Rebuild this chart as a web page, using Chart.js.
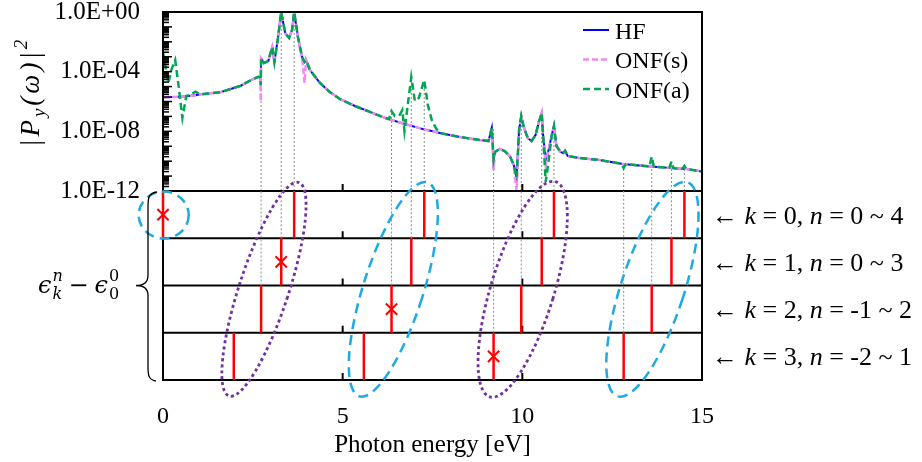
<!DOCTYPE html>
<html>
<head>
<meta charset="utf-8">
<script src="https://cdn.jsdelivr.net/npm/chart.js@4.4.1/dist/chart.umd.min.js"></script>
<style>
  html, body { margin: 0; padding: 0; background: #fff; }
  #wrap { position: relative; width: 922px; height: 462px; }
  #wrap canvas { position: absolute; left: 0; top: 0; }
</style>
</head>
<body>
<div id="wrap">
  <canvas id="spectrum" width="922" height="462"></canvas>
  <canvas id="levels" width="922" height="462"></canvas>
</div>
<script>
"use strict";

// photon energy grid [eV] shared by the three spectra
var energy = [0.00, 0.06, 0.15, 0.23, 0.34, 0.43, 0.54, 0.65, 0.76, 0.90,
    1.04, 1.59, 2.15, 2.45, 2.65, 2.71, 2.72, 2.73, 2.81, 2.93,
    3.04, 3.10, 3.20, 3.29, 3.40, 3.51, 3.59, 3.65, 3.76, 3.87,
    3.94, 3.98, 4.09, 4.37, 4.64, 4.92, 5.34, 5.76, 6.18, 6.29,
    6.36, 6.45, 6.59, 6.66, 6.72, 6.79, 6.91, 7.01, 7.12, 7.27,
    7.37, 7.48, 7.59, 7.70, 8.26, 8.81, 9.06, 9.15, 9.20, 9.24,
    9.37, 9.51, 9.65, 9.76, 9.84, 9.91, 9.97, 10.04, 10.15, 10.26,
    10.37, 10.46, 10.54, 10.58, 10.65, 10.73, 10.82, 10.88, 10.95, 11.06,
    11.14, 11.19, 11.26, 11.59, 12.15, 12.76, 12.82, 12.88, 13.54, 13.60,
    13.66, 14.09, 14.15, 14.21, 14.45, 14.51, 14.57, 15.00];

// |P_y(w)|^2
var hfValues = [1.9e-6, 1.9e-6, 1.93e-6, 2.0e-6, 2.04e-6, 2.09e-6, 2.19e-6, 2.29e-6, 2.45e-6, 2.63e-6,
    3.02e-6, 4.17e-6, 1.1e-5, 2.75e-5, 4.57e-5, 3.98e-5, 1.26e-5, 7.59e-4, 3.8e-4, 5.25e-4,
    4.47e-3, 4.47e-4, 1.82e-2, 1, 3.89e-2, 1.82e-2, 6.17e-2, 1, 1.82e-2, 9.55e-4,
    4.47e-4, 6.03e-4, 1.29e-4, 1.74e-5, 4.37e-6, 1.48e-6, 5.01e-7, 2.0e-7, 7.94e-8, 6.61e-8,
    5.75e-8, 5.01e-8, 3.89e-8, 3.47e-8, 3.16e-8, 2.82e-8, 2.34e-8, 2.0e-8, 1.7e-8, 1.32e-8,
    1.17e-8, 1.05e-8, 9.12e-9, 7.76e-9, 4.17e-9, 2.63e-9, 2.24e-9, 1.7e-8, 1.26e-10, 4.17e-10,
    6.61e-10, 4.79e-10, 2.24e-10, 5.62e-11, 7.94e-12, 1.23e-8, 1.07e-7, 1.95e-8, 3.55e-9, 2.24e-9,
    5.75e-9, 4.27e-8, 1.7e-7, 4.9e-9, 1.2e-10, 5.62e-10, 5.75e-9, 2.29e-8, 1.05e-9, 4.17e-10,
    3.55e-10, 5.01e-10, 2.24e-10, 1.62e-10, 1.2e-10, 6.61e-11, 6.46e-11, 6.31e-11, 4.47e-11, 4.37e-11,
    4.27e-11, 3.55e-11, 3.47e-11, 3.39e-11, 3.09e-11, 3.02e-11, 2.95e-11, 2.04e-11];

var onfSValues = [1.9e-6, 1.9e-6, 1.93e-6, 2.0e-6, 2.04e-6, 2.09e-6, 2.19e-6, 2.29e-6, 2.45e-6, 2.63e-6,
    3.02e-6, 4.17e-6, 1.1e-5, 2.75e-5, 4.57e-5, 3.98e-5, 1.0e-6, 7.59e-4, 3.8e-4, 5.25e-4,
    4.47e-3, 4.47e-4, 1.82e-2, 1, 3.89e-2, 1.82e-2, 6.17e-2, 1, 1.82e-2, 9.55e-4,
    1.74e-5, 6.03e-4, 1.29e-4, 1.74e-5, 4.37e-6, 1.48e-6, 5.01e-7, 2.0e-7, 7.94e-8, 6.61e-8,
    5.75e-8, 5.01e-8, 3.89e-8, 3.47e-8, 3.16e-8, 2.82e-8, 2.34e-8, 2.0e-8, 1.7e-8, 1.32e-8,
    1.17e-8, 1.05e-8, 9.12e-9, 7.76e-9, 4.17e-9, 2.63e-9, 2.24e-9, 1.7e-8, 2.51e-11, 4.17e-10,
    6.61e-10, 4.79e-10, 2.24e-10, 5.62e-11, 1.0e-12, 1.23e-8, 1.07e-7, 1.95e-8, 3.55e-9, 2.24e-9,
    5.75e-9, 4.27e-8, 1.7e-7, 4.9e-9, 5.62e-11, 5.62e-10, 5.75e-9, 2.29e-8, 1.05e-9, 4.17e-10,
    3.55e-10, 5.01e-10, 2.24e-10, 1.62e-10, 1.2e-10, 6.61e-11, 6.46e-11, 6.31e-11, 4.47e-11, 4.37e-11,
    4.27e-11, 3.55e-11, 3.47e-11, 3.39e-11, 3.09e-11, 3.02e-11, 2.95e-11, 2.04e-11];

var onfAValues = [2.19e-3, 2.82e-4, 1.74e-5, 1.29e-4, 6.03e-4, 1.29e-5, 7.94e-8, 2.34e-6, 2.75e-6, 4.57e-6,
    3.02e-6, 4.17e-6, 1.1e-5, 2.75e-5, 4.57e-5, 3.98e-5, 1.26e-5, 7.59e-4, 3.8e-4, 5.25e-4,
    4.47e-3, 4.47e-4, 1.82e-2, 1, 3.89e-2, 1.82e-2, 6.17e-2, 1, 1.82e-2, 9.55e-4,
    4.47e-4, 6.03e-4, 1.29e-4, 1.74e-5, 4.37e-6, 1.48e-6, 5.01e-7, 2.0e-7, 7.94e-8, 6.61e-8,
    2.29e-7, 1.07e-7, 1.26e-7, 2.69e-7, 1.05e-8, 2.29e-7, 4.37e-5, 1.07e-6, 1.74e-6, 2.75e-5,
    5.89e-7, 5.75e-8, 1.7e-8, 7.76e-9, 4.17e-9, 2.63e-9, 2.24e-9, 1.7e-8, 1.26e-10, 4.17e-10,
    6.61e-10, 4.79e-10, 2.24e-10, 5.62e-11, 7.94e-12, 1.23e-8, 1.07e-7, 1.95e-8, 3.55e-9, 2.24e-9,
    5.75e-9, 4.27e-8, 1.7e-7, 4.9e-9, 4.07e-12, 1.0e-10, 5.75e-9, 2.29e-8, 1.05e-9, 4.17e-10,
    3.55e-10, 5.01e-10, 2.24e-10, 1.62e-10, 1.2e-10, 6.61e-11, 3.47e-11, 6.31e-11, 4.47e-11, 2.0e-10,
    4.27e-11, 3.55e-11, 9.33e-11, 3.39e-11, 3.09e-11, 4.79e-11, 2.95e-11, 2.04e-11];

// eps_k^n - eps_0^0 [eV], one list per k
var levelsK0 = [0.00, 3.65, 7.27, 10.88, 14.51];
var levelsK1 = [3.29, 6.91, 10.54, 14.15];
var levelsK2 = [2.73, 6.36, 9.97, 13.60];
var levelsK3 = [1.97, 5.59, 9.20, 12.82];
var levelRows = [levelsK0, levelsK1, levelsK2, levelsK3];
var zeroLevels = [0.00, 3.29, 6.36, 9.20];       // n = 0 of each k (crosses)
var guideEnergies = [2.73, 3.29, 3.65, 6.36, 6.91, 7.27, 9.20, 9.97, 10.54, 10.88, 12.82, 13.60, 14.15, 14.51];

var rowK = ['0', '1', '2', '3'];
var rowN = ['0 ~ 4', '0 ~ 3', '-1 ~ 2', '-2 ~ 1'];

var yTickValues = [1, 1e-4, 1e-8, 1e-12];
var yTickLabels = ['1.0E+00', '1.0E-04', '1.0E-08', '1.0E-12'];
var xTickValues = [0, 5, 10, 15];

var SERIF = "'Liberation Serif', 'Times New Roman', serif";
Chart.defaults.font.family = SERIF;
Chart.defaults.color = '#000';

function toPoints(xs, ys) {
    return xs.map(function (x, i) { return {x: x, y: ys[i]}; });
}

// highest of the three spectra close to energy e (where a guide line stops)
function curveTop(e) {
    var top = 1e-12;
    energy.forEach(function (x, i) {
        if (Math.abs(x - e) <= 0.06) top = Math.max(top, hfValues[i], onfSValues[i], onfAValues[i]);
    });
    return top;
}

function rowOf(e) {
    for (var k = 0; k < levelRows.length; k++) {
        if (levelRows[k].indexOf(e) >= 0) return k;
    }
    return -1;
}

// draws text pieces one after the other, returns the end x
function drawPieces(ctx, pieces, x, y) {
    pieces.forEach(function (p) {
        ctx.font = p.font;
        ctx.fillText(p.text, x, y + (p.dy || 0));
        x += ctx.measureText(p.text).width + (p.gap || 0);
    });
    return x;
}

/* ---------- upper panel: spectra ---------- */

var curveStyles = [
    {label: 'HF', values: hfValues, color: '#0000FF', width: 2, dash: [], order: 3},
    {label: 'ONF(s)', values: onfSValues, color: '#F08CF0', width: 2.5, dash: [6, 3], order: 2},
    {label: 'ONF(a)', values: onfAValues, color: '#00A651', width: 2.5, dash: [7, 4], order: 1}
];

var spectrumSets = curveStyles.map(function (c) {
    return {
        label: c.label, data: toPoints(energy, c.values),
        borderColor: c.color, borderWidth: c.width, borderDash: c.dash,
        pointRadius: 0, tension: 0, fill: false, order: c.order
    };
});
guideEnergies.forEach(function (e) {
    spectrumSets.push({
        label: '', data: [{x: e, y: 1e-12}, {x: e, y: curveTop(e)}],
        borderColor: '#8c8c8c', borderWidth: 1, borderDash: [2, 2], pointRadius: 0, order: 10
    });
});

var spectrumDecor = {
    id: 'spectrumDecor',
    afterDraw: function (chart) {
        var ctx = chart.ctx, ca = chart.chartArea, ys = chart.scales.y;
        ctx.save();

        // inner tick marks of the log axis
        ctx.strokeStyle = '#000';
        ctx.lineWidth = 1.5;
        ys.ticks.forEach(function (t) {
            var py = ys.getPixelForValue(t.value);
            var lg = Math.log10(t.value);
            var len = Math.abs(lg - Math.round(lg)) < 1e-9 ? 9 : 6;
            ctx.beginPath();
            ctx.moveTo(ca.left, py);
            ctx.lineTo(ca.left + len, py);
            ctx.stroke();
        });

        ctx.lineWidth = 2;
        ctx.strokeRect(ca.left, ca.top, ca.right - ca.left, ca.bottom - ca.top);

        // legend inside the plot, top right
        ctx.fillStyle = '#000';
        ctx.textBaseline = 'alphabetic';
        ctx.font = '24px ' + SERIF;
        chart.data.datasets.filter(function (d) { return d.label; }).forEach(function (d, i) {
            var ly = ca.top + 18 + i * 29.5;
            ctx.strokeStyle = d.borderColor;
            ctx.lineWidth = d.borderWidth;
            ctx.setLineDash(d.borderDash);
            ctx.beginPath();
            ctx.moveTo(ca.right - 119, ly);
            ctx.lineTo(ca.right - 93, ly);
            ctx.stroke();
            ctx.setLineDash([]);
            ctx.fillText(d.label, ca.right - 87, ly + 8.5);
        });

        // axis title |P_y(w)|^2, rotated
        ctx.translate(39, 147);
        ctx.rotate(-Math.PI / 2);
        ctx.letterSpacing = '3px';
        drawPieces(ctx, [
            {text: '|P', font: 'italic 27px ' + SERIF},
            {text: 'y', font: 'italic 19px ' + SERIF, dy: 6},
            {text: '(\u03c9)|', font: 'italic 27px ' + SERIF},
            {text: '2', font: 'italic 19px ' + SERIF, dy: -12}
        ], 0, 0);
        ctx.restore();
    }
};

new Chart(document.getElementById('spectrum'), {
    type: 'line',
    data: {datasets: spectrumSets},
    options: {
        responsive: false,
        animation: false,
        devicePixelRatio: 1,
        layout: {padding: {left: 0, top: 12, right: 220, bottom: 271}},
        plugins: {legend: {display: false}, tooltip: {enabled: false}},
        scales: {
            x: {type: 'linear', min: 0, max: 15, display: false},
            y: {
                type: 'logarithmic', min: 1e-12, max: 1,
                afterBuildTicks: function (axis) {
                    var ticks = [];
                    for (var p = -12; p <= 0; p++) {
                        for (var m = 1; m <= 9; m++) {
                            var v = m * Math.pow(10, p);
                            if (v <= 1) ticks.push({value: v});
                        }
                    }
                    axis.ticks = ticks;
                },
                afterFit: function (axis) {
                    axis.width = 163;
                    axis.paddingTop = 0;
                    axis.paddingBottom = 0;
                },
                grid: {display: false, drawTicks: false},
                border: {display: false},
                ticks: {
                    autoSkip: false, padding: 23, color: '#000', font: {size: 25},
                    callback: function (value) {
                        for (var i = 0; i < yTickValues.length; i++) {
                            if (Math.abs(Math.log10(value) - Math.log10(yTickValues[i])) < 1e-6) return yTickLabels[i];
                        }
                        return '';
                    }
                }
            }
        }
    },
    plugins: [spectrumDecor]
});

/* ---------- lower panel: excitation levels ---------- */

var levelSets = [];
guideEnergies.forEach(function (e) {
    var k = rowOf(e);
    if (k > 0) {
        levelSets.push({
            data: [{x: e, y: levelRows.length - k}, {x: e, y: levelRows.length}],
            borderColor: '#8c8c8c', borderWidth: 1, borderDash: [2, 2], pointRadius: 0, clip: false, order: 10
        });
    }
});
levelRows.forEach(function (levels, k) {
    levels.forEach(function (e) {
        levelSets.push({
            data: [{x: e, y: levelRows.length - 1 - k}, {x: e, y: levelRows.length - k}],
            borderColor: '#FF0000', borderWidth: 2.5, pointRadius: 0, clip: false, order: 5
        });
    });
});
levelSets.push({
    data: zeroLevels.map(function (e, k) { return {x: e, y: levelRows.length - 0.5 - k}; }),
    showLine: false, pointStyle: 'crossRot', pointRadius: 8, pointBorderWidth: 2,
    pointBorderColor: '#FF0000', pointBackgroundColor: '#FF0000', clip: false, order: 1
});

// dashed / dotted loops round the level groups (centre in data units, radii in px)
var groupEllipses = [
    {x: 0.02, y: 3.49, rx: 25, ry: 23.5, tilt: 0, style: 'blue'},
    {x: 2.81, y: 1.92, rx: 24.8, ry: 112.3, tilt: 18.1, style: 'purple'},
    {x: 6.41, y: 1.92, rx: 30, ry: 112.3, tilt: 17.7, style: 'blue'},
    {x: 10.01, y: 1.92, rx: 31.6, ry: 112.5, tilt: 17, style: 'purple'},
    {x: 13.62, y: 1.92, rx: 31.6, ry: 112.6, tilt: 18.1, style: 'blue'}
];
var ellipseStyles = {
    blue: {color: '#1CA9E4', dash: [10, 6], width: 2.5},
    purple: {color: '#7030A0', dash: [3, 3], width: 2.8}
};

var panelDecor = {
    id: 'panelDecor',
    beforeDatasetsDraw: function (chart) {
        var ctx = chart.ctx, ca = chart.chartArea, xs = chart.scales.x, ys = chart.scales.y;
        ctx.save();
        ctx.strokeStyle = '#000';
        ctx.lineWidth = 2;
        for (var v = 0; v <= levelRows.length; v++) {
            var py = ys.getPixelForValue(v);
            ctx.beginPath();
            ctx.moveTo(ca.left - 1, py);
            ctx.lineTo(ca.right + 1, py);
            ctx.stroke();
            xTickValues.forEach(function (t) {
                if (t <= xs.min || t >= xs.max) return;
                var px = xs.getPixelForValue(t);
                ctx.beginPath();
                ctx.moveTo(px, py);
                ctx.lineTo(px, py - 7);
                ctx.stroke();
            });
        }
        ctx.beginPath();
        ctx.moveTo(ca.left, ca.top);
        ctx.lineTo(ca.left, ca.bottom);
        ctx.moveTo(ca.right, ca.top);
        ctx.lineTo(ca.right, ca.bottom);
        ctx.stroke();
        ctx.restore();
    },
    afterDatasetsDraw: function (chart) {
        var ctx = chart.ctx, ca = chart.chartArea, xs = chart.scales.x, ys = chart.scales.y;
        ctx.save();

        groupEllipses.forEach(function (g) {
            var st = ellipseStyles[g.style];
            ctx.strokeStyle = st.color;
            ctx.lineWidth = st.width;
            ctx.setLineDash(st.dash);
            ctx.beginPath();
            ctx.ellipse(xs.getPixelForValue(g.x), ys.getPixelForValue(g.y), g.rx, g.ry, g.tilt * Math.PI / 180, 0, 2 * Math.PI);
            ctx.stroke();
        });
        ctx.setLineDash([]);

        // curly brace
        var mid = (ca.top + ca.bottom) / 2, bx = ca.left - 15;
        ctx.strokeStyle = '#000';
        ctx.lineWidth = 1.3;
        ctx.beginPath();
        ctx.moveTo(ca.left - 6, ca.top + 1);
        ctx.bezierCurveTo(bx, ca.top + 2, bx, ca.top + 8, bx, ca.top + 16);
        ctx.lineTo(bx, mid - 10);
        ctx.bezierCurveTo(bx, mid - 3, bx - 5, mid, bx - 12, mid);
        ctx.bezierCurveTo(bx - 5, mid, bx, mid + 3, bx, mid + 10);
        ctx.lineTo(bx, ca.bottom - 14);
        ctx.bezierCurveTo(bx, ca.bottom - 6, bx, ca.bottom, ca.left - 7, ca.bottom + 1);
        ctx.stroke();

        // eps_k^n - eps_0^0
        ctx.fillStyle = '#000';
        ctx.textBaseline = 'alphabetic';
        var base = mid + 7, ex = 38;
        var big = "italic 24px 'DejaVu Serif'", small = "italic 16px 'DejaVu Serif'", up = "16px 'DejaVu Serif'";
        ctx.font = big;
        ctx.fillText('\u03f5', ex, base);
        ex += ctx.measureText('\u03f5').width + 1;
        ctx.font = small;
        ctx.fillText('n', ex, base - 12);
        ctx.fillText('k', ex, base + 6);
        ex += 16;
        ctx.font = "24px 'DejaVu Serif'";
        ctx.fillText('\u2212', ex, base);
        ex += ctx.measureText('\u2212').width + 6;
        ctx.font = big;
        ctx.fillText('\u03f5', ex, base);
        ex += ctx.measureText('\u03f5').width + 1;
        ctx.font = up;
        ctx.fillText('0', ex, base - 12);
        ctx.fillText('0', ex, base + 6);

        // row labels on the right
        var reg = '26px ' + SERIF, ital = 'italic 26px ' + SERIF;
        rowK.forEach(function (k, i) {
            var py = (ys.getPixelForValue(levelRows.length - i) + ys.getPixelForValue(levelRows.length - 1 - i)) / 2 + 9;
            drawPieces(ctx, [
                {text: '\u2190 ', font: reg},
                {text: 'k', font: ital},
                {text: ' = ' + k + ', ', font: reg},
                {text: 'n', font: ital},
                {text: ' = ' + rowN[i], font: reg}
            ], ca.right + 10, py);
        });
        ctx.restore();
    }
};

new Chart(document.getElementById('levels'), {
    type: 'line',
    data: {datasets: levelSets},
    options: {
        responsive: false,
        animation: false,
        devicePixelRatio: 1,
        layout: {padding: {left: 163, top: 191, right: 220, bottom: 0}},
        plugins: {legend: {display: false}, tooltip: {enabled: false}},
        scales: {
            x: {
                type: 'linear', min: 0, max: 15,
                afterBuildTicks: function (axis) {
                    axis.ticks = xTickValues.map(function (v) { return {value: v}; });
                },
                afterFit: function (axis) { axis.height = 82; },
                grid: {display: false, drawTicks: false},
                border: {display: false},
                ticks: {autoSkip: false, maxRotation: 0, padding: 22, color: '#000', font: {size: 24}},
                title: {display: true, text: 'Photon energy [eV]', color: '#000', font: {size: 25}, padding: {top: 0, bottom: 2}}
            },
            y: {type: 'linear', min: 0, max: 4, display: false}
        }
    },
    plugins: [panelDecor]
});
</script>
</body>
</html>
